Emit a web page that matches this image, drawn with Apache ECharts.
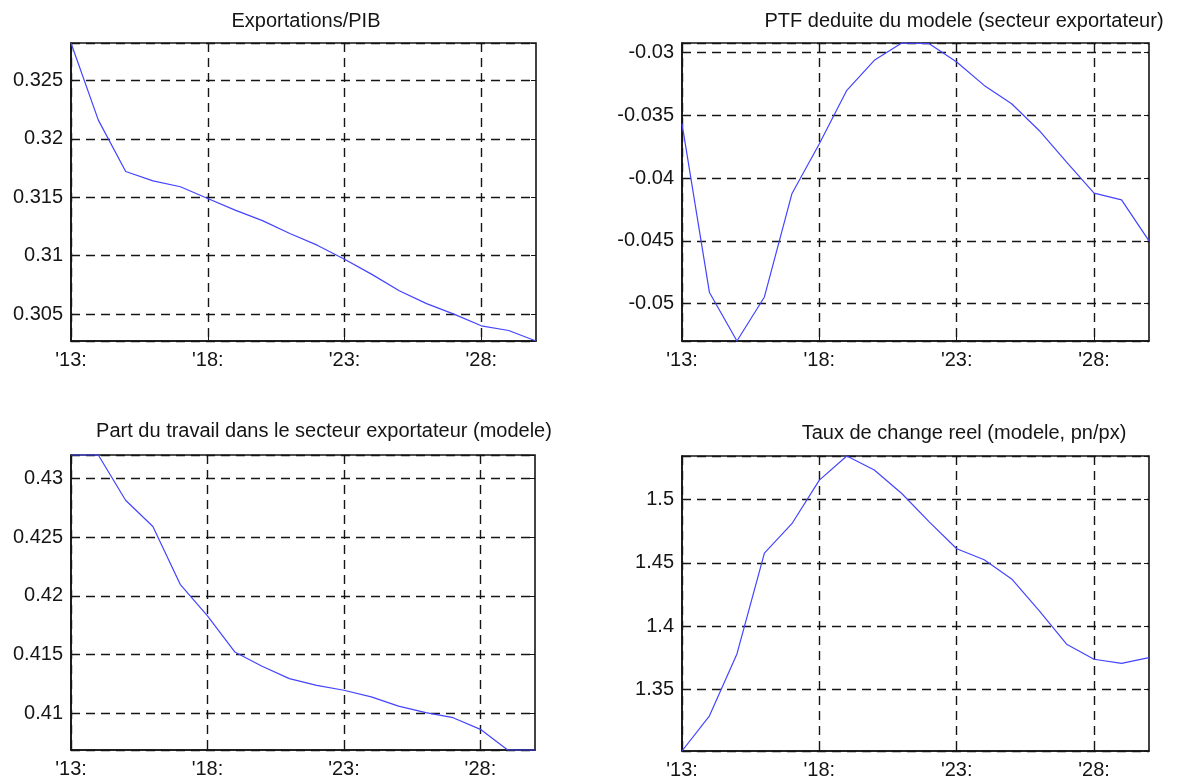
<!DOCTYPE html>
<html>
<head>
<meta charset="utf-8">
<script src="https://cdn.jsdelivr.net/npm/echarts@6/dist/echarts.min.js"></script>
<style>
  html, body { margin: 0; padding: 0; background: #ffffff; }
  #chart { width: 1177px; height: 780px; }
</style>
</head>
<body>
<div id="chart"></div>
<script>
// Years 2013-2030, labelled MATLAB-style as 'yy:
const years = ["'13:", "'14:", "'15:", "'16:", "'17:", "'18:", "'19:", "'20:", "'21:",
               "'22:", "'23:", "'24:", "'25:", "'26:", "'27:", "'28:", "'29:", "'30:"];

// Exportations / PIB
const exportsGdp = [0.3282, 0.3216, 0.3172, 0.3164, 0.3159, 0.3149, 0.3139, 0.3130, 0.3119,
                    0.3109, 0.3097, 0.3084, 0.3070, 0.3059, 0.3050, 0.3040, 0.3036, 0.3027];

// PTF deduite du modele (secteur exportateur)
const tfpExport = [-0.03566, -0.04912, -0.05298, -0.04947, -0.04125, -0.03726, -0.03300, -0.03061, -0.02923,
                   -0.02928, -0.03074, -0.03261, -0.03407, -0.03620, -0.03872, -0.04120, -0.04173, -0.04500];

// Part du travail dans le secteur exportateur (modele)
const laborShare = [0.4320, 0.4320, 0.42815, 0.42591, 0.42099, 0.4183, 0.41523, 0.41401, 0.41296,
                    0.41239, 0.41197, 0.4114, 0.41062, 0.41006, 0.40963, 0.40864, 0.40688, 0.40688];

// Taux de change reel (modele, pn/px)
const realExchange = [1.3013, 1.3291, 1.3780, 1.4577, 1.4809, 1.5153, 1.5344, 1.5233, 1.5048,
                      1.4823, 1.4611, 1.4524, 1.4373, 1.4122, 1.3857, 1.3738, 1.3706, 1.3751];

const titles = [
  'Exportations/PIB',
  'PTF deduite du modele (secteur exportateur)',
  'Part du travail dans le secteur exportateur (modele)',
  'Taux de change reel (modele, pn/px)'
];

const FONT = '"Liberation Sans", Arial, sans-serif';
const INK = '#151515';
const LINE_BLUE = '#4444ff';

const panels = [
  { values: exportsGdp,   grid: { left: 71,  top: 43,  width: 465, height: 298 }, title: { x: 301, y: 6 } },
  { values: tfpExport,    grid: { left: 682, top: 43,  width: 467, height: 298 }, title: { x: 959, y: 6 } },
  { values: laborShare,   grid: { left: 71,  top: 455, width: 464, height: 295 }, title: { x: 319, y: 416 } },
  { values: realExchange, grid: { left: 682, top: 456, width: 467, height: 295 }, title: { x: 959, y: 418 } }
];

const dashed = { color: INK, width: 1.4, type: [9, 6] };

const option = {
  backgroundColor: '#ffffff',
  animation: false,
  title: [],
  grid: [],
  xAxis: [],
  yAxis: [],
  series: []
};

panels.forEach((p, i) => {
  const lo = Math.min(...p.values);
  const hi = Math.max(...p.values);

  option.title.push({
    text: titles[i],
    left: p.title.x,
    top: p.title.y,
    textAlign: 'center',
    textStyle: { fontFamily: FONT, fontSize: 20, fontWeight: 'normal', color: INK }
  });

  option.grid.push(Object.assign({
    show: true,
    borderColor: INK,
    borderWidth: 1.6,
    backgroundColor: '#ffffff'
  }, p.grid));

  // bottom category axis with dashed vertical grid every 5 years
  option.xAxis.push({
    type: 'category',
    gridIndex: i,
    data: years,
    boundaryGap: false,
    axisLine: { show: true, lineStyle: { color: INK, width: 1.6 } },
    axisTick: { show: true, inside: true, length: 5, interval: 4, lineStyle: { color: INK } },
    axisLabel: { interval: 4, margin: 9, fontFamily: FONT, fontSize: 20, color: INK },
    splitLine: { show: true, interval: 4, lineStyle: dashed }
  });
  // top mirror axis: inside ticks only
  option.xAxis.push({
    type: 'category',
    gridIndex: i,
    position: 'top',
    data: years,
    boundaryGap: false,
    axisLine: { show: false },
    axisTick: { show: true, inside: true, length: 5, interval: 4, lineStyle: { color: INK } },
    axisLabel: { show: false },
    splitLine: { show: false }
  });

  // left value axis, tight to the data range
  option.yAxis.push({
    type: 'value',
    gridIndex: i,
    min: lo,
    max: hi,
    splitNumber: 5,
    axisLine: { show: true, lineStyle: { color: INK, width: 1.6 } },
    axisTick: { show: true, inside: true, length: 5, lineStyle: { color: INK } },
    axisLabel: { showMinLabel: false, showMaxLabel: false, margin: 8,
                 fontFamily: FONT, fontSize: 20, color: INK },
    splitLine: { show: true, lineStyle: dashed }
  });
  // right mirror axis: inside ticks only
  option.yAxis.push({
    type: 'value',
    gridIndex: i,
    position: 'right',
    min: lo,
    max: hi,
    splitNumber: 5,
    axisLine: { show: false },
    axisTick: { show: true, inside: true, length: 5, lineStyle: { color: INK } },
    axisLabel: { show: false },
    splitLine: { show: false }
  });

  option.series.push({
    type: 'line',
    xAxisIndex: i * 2,
    yAxisIndex: i * 2,
    data: p.values,
    showSymbol: false,
    symbol: 'none',
    clip: false,
    lineStyle: { color: LINE_BLUE, width: 1.2 },
    z: 5
  });
});

const chart = echarts.init(document.getElementById('chart'), null, { renderer: 'canvas' });
chart.setOption(option);
</script>
</body>
</html>
